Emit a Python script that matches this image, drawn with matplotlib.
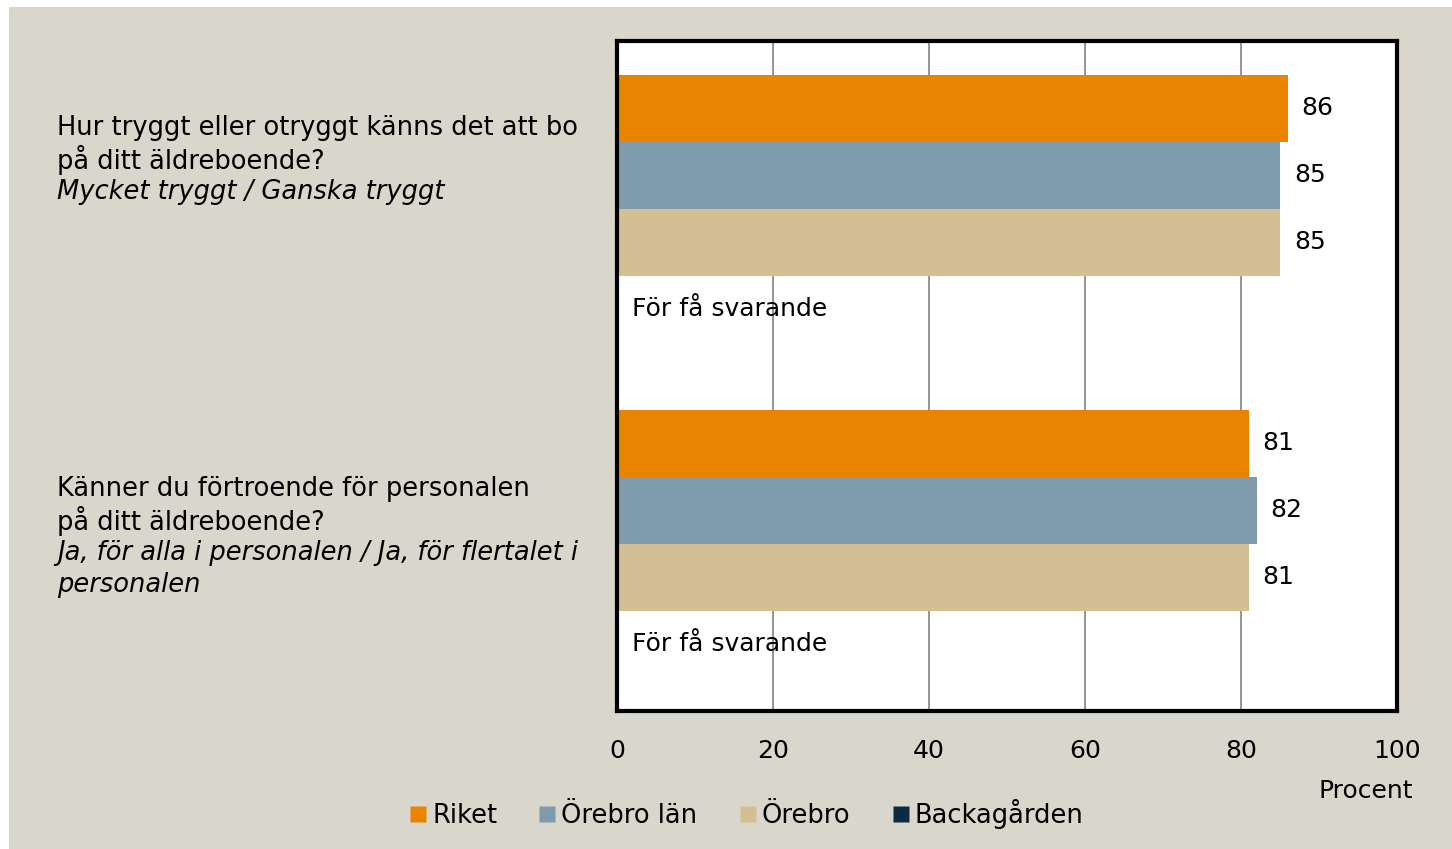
import matplotlib
matplotlib.use("Agg")
import matplotlib.pyplot as plt
from matplotlib.patches import Rectangle
from matplotlib.lines import Line2D
import matplotlib.transforms as mtransforms

# data
serier = ["Riket", "Örebro län", "Örebro", "Backagården"]
farger = ["#E98300", "#7F9BAD", "#D4BF95", "#0B2B45"]
fraga1 = [86, 85, 85, None]
fraga2 = [81, 82, 81, None]
varden = [fraga1, fraga2]
fragor = [
    ("Hur tryggt eller otryggt känns det att bo\npå ditt äldreboende?",
     "Mycket tryggt / Ganska tryggt"),
    ("Känner du förtroende för personalen\npå ditt äldreboende?",
     "Ja, för alla i personalen / Ja, för flertalet i\npersonalen"),
]
xticks = [0, 20, 40, 60, 80, 100]
saknas_text = "För få svarande"

plt.rcParams["font.family"] = ["DejaVu Sans"]
FS = 18
W, H = 1452, 849
fig = plt.figure(figsize=(W / 100, H / 100), dpi=100, facecolor="white")
# beige bakgrund med smal vit kant uppe/vänster
fig.patches.append(Rectangle((9 / W, 0), 1, 1 - 7 / H, transform=fig.transFigure,
                             facecolor="#D9D7CB", edgecolor="none", zorder=-10))

ax = fig.add_axes([617 / W, (H - 711) / H, 780 / W, 670 / H])
ax.set_facecolor("white")

for g, vals in enumerate(varden):
    start = g * 5 + 1
    for i, v in enumerate(vals):
        y = start + i
        if v is None:
            ax.annotate(saknas_text, (0, y), xytext=(11, 0), textcoords="offset points",
                        va="center", ha="left", fontsize=FS)
            continue
        ax.barh(y, v, height=1.0, color=farger[i], zorder=2)
        ax.annotate(str(v), (v, y), xytext=(10, 0), textcoords="offset points",
                    va="center", ha="left", fontsize=FS)

ax.set_xlim(0, 100)
ax.set_ylim(10, 0)
ax.set_xticks(xticks)
ax.set_xticklabels([str(t) for t in xticks], fontsize=FS)
ax.set_yticks([])
ax.tick_params(axis="x", length=0, pad=20)
ax.grid(axis="x", color="#8C8C8C", linewidth=1.3, zorder=1)
ax.set_axisbelow(True)
for s in ax.spines.values():
    s.set_linewidth(3)
    s.set_color("black")

fig.text(1413 / W, 1 - 791 / H, "Procent", ha="right", va="center", fontsize=FS)

# frågetexter (pixelkoordinater uppifrån)
fig_px = mtransforms.Affine2D().scale(1 / W, -1 / H).translate(0, 1) + fig.transFigure
rad = 32
for (normal, kursiv), y0 in zip(fragor, [128, 489]):
    rader = normal.split("\n")
    for k, line in enumerate(rader):
        fig.text(57, y0 + k * rad, line, transform=fig_px, ha="left", va="center",
                 fontsize=FS + 0.5)
    for k, line in enumerate(kursiv.split("\n")):
        fig.text(57, y0 + (len(rader) + k) * rad, line, transform=fig_px, ha="left",
                 va="center", fontsize=FS + 0.5, style="italic")

handles = [Line2D([], [], marker="s", linestyle="none", markersize=11,
                  markerfacecolor=c, markeredgecolor="none") for c in farger]
fig.legend(handles, serier, loc="center", bbox_to_anchor=(745 / W, 1 - 814 / H),
           ncol=4, frameon=False, fontsize=FS + 0.5, handletextpad=0.1, columnspacing=1.5,
           handlelength=0.9)

fig.savefig("out.png", dpi=100, facecolor=fig.get_facecolor())
